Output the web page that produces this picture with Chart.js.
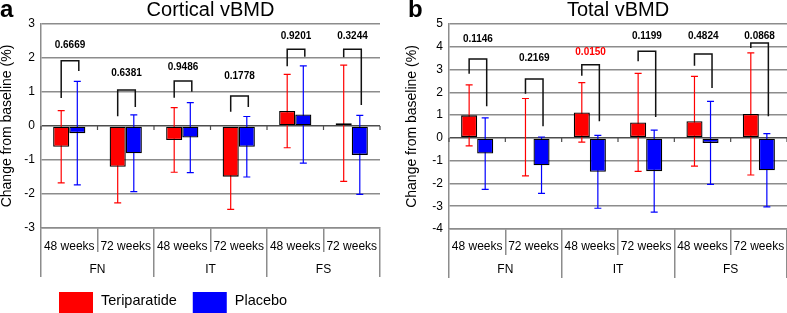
<!DOCTYPE html>
<html>
<head>
<meta charset="utf-8">
<script src="https://cdn.jsdelivr.net/npm/chart.js@4.4.1/dist/chart.umd.min.js"></script>
<style>
    body { margin: 0; background: #fff; }
    #wrap { position: relative; width: 787px; height: 313px; overflow: hidden; }
    canvas { position: absolute; top: 0; }
    #panelA { left: 0; }
    #panelB { left: 395px; }
</style>
</head>
<body>
<div id="wrap">
    <canvas id="panelA" width="395" height="313"></canvas>
    <canvas id="panelB" width="392" height="313"></canvas>
</div>
<script>
(function() {
    'use strict';

    // Axis categories
    const periods = ['48 weeks', '72 weeks', '48 weeks', '72 weeks', '48 weeks', '72 weeks'];
    const sites = ['FN', 'IT', 'FS'];
    const seriesNames = ['Teriparatide', 'Placebo'];

    // Panel a - Cortical vBMD (mean and SD, % change)
    const cortTeri = [-0.61, -1.20, -0.41, -1.49, 0.44, 0.08];
    const cortTeriSd = [1.06, 1.06, 0.95, 0.96, 1.08, 1.71];
    const cortPlac = [-0.21, -0.80, -0.34, -0.61, 0.34, -0.85];
    const cortPlacSd = [1.52, 1.13, 1.03, 0.89, 1.43, 1.16];
    const cortP = ['0.6669', '0.6381', '0.9486', '0.1778', '0.9201', '0.3244'];
    const cortPLabelY = [2.38, 1.56, 1.74, 1.45, 2.65, 2.65];
    const cortBracketTop = [1.92, 1.06, 1.32, 0.88, 2.26, 2.26];
    const cortBracketLeft = [0.82, 0.29, 0.83, 0.42, 1.76, 2.02];
    const cortBracketRight = [1.62, 0.56, 1.01, 0.56, 2.04, 0.62];
    const cortRange = [-3, 3];

    // Panel b - Total vBMD
    const totTeri = [0.99, 0.03, 1.12, 0.68, 0.73, 1.05];
    const totTeriSd = [1.34, 1.70, 1.31, 2.15, 1.97, 2.68];
    const totPlac = [-0.69, -1.20, -1.49, -1.46, -0.22, -1.42];
    const totPlacSd = [1.57, 1.24, 1.60, 1.80, 1.82, 1.61];
    const totP = ['0.1146', '0.2169', '0.0150', '0.1199', '0.4824', '0.0868'];
    const totPLabelY = [4.34, 3.51, 3.77, 4.46, 4.46, 4.46];
    const totBracketTop = [3.46, 2.59, 3.21, 3.80, 3.68, 4.17];
    const totBracketLeft = [2.82, 1.94, 2.73, 3.36, 3.17, 3.95];
    const totBracketRight = [1.39, 0.51, 0.73, 0.92, 2.19, 0.95];
    const totRange = [-4, 5];

    const FONT = "'Liberation Sans', Arial, sans-serif";
    const RED = '#ff0000';
    const BLUE = '#0000ff';
    const GRID = '#8c8c8c';

    Chart.defaults.font.family = FONT;
    Chart.defaults.color = '#000';

    // error bars go behind the bars
    const errorBars = {
        id: 'errorBars',
        beforeDatasetsDraw(chart) {
            const { ctx } = chart;
            const y = chart.scales.y;
            chart.data.datasets.forEach((ds, i) => {
                const meta = chart.getDatasetMeta(i);
                ctx.save();
                ctx.strokeStyle = ds.errColor;
                ctx.lineWidth = 1.2;
                meta.data.forEach((bar, j) => {
                    const top = y.getPixelForValue(ds.data[j] + ds.sd[j]);
                    const bot = y.getPixelForValue(ds.data[j] - ds.sd[j]);
                    ctx.beginPath();
                    ctx.moveTo(bar.x, top); ctx.lineTo(bar.x, bot);
                    ctx.moveTo(bar.x - 3.5, top); ctx.lineTo(bar.x + 3.5, top);
                    ctx.moveTo(bar.x - 3.5, bot); ctx.lineTo(bar.x + 3.5, bot);
                    ctx.stroke();
                });
                ctx.restore();
            });
        }
    };

    // p-value brackets and small ticks on the zero line
    const brackets = {
        id: 'brackets',
        afterDatasetsDraw(chart, args, opts) {
            const { ctx } = chart;
            const x = chart.scales.x;
            const y = chart.scales.y;
            const teri = chart.getDatasetMeta(0).data;
            const plac = chart.getDatasetMeta(1).data;
            const y0 = y.getPixelForValue(0);
            const slot = x.getPixelForValue(1) - x.getPixelForValue(0);

            ctx.save();
            ctx.strokeStyle = '#4d4d4d';
            ctx.lineWidth = 1.2;
            ctx.beginPath();
            for (let j = 0; j <= x.ticks.length; j++) {
                const px = x.getPixelForValue(0) - slot / 2 + j * slot;
                ctx.moveTo(px, y0); ctx.lineTo(px, y0 + 4);
            }
            ctx.stroke();

            ctx.strokeStyle = '#111';
            ctx.lineWidth = 1.5;
            ctx.font = 'bold 10px ' + FONT;
            ctx.textAlign = 'center';
            ctx.textBaseline = 'middle';
            teri.forEach((bar, j) => {
                const xl = bar.x;
                const xr = plac[j].x + 1.5;
                const yt = y.getPixelForValue(opts.top[j]);
                ctx.beginPath();
                ctx.moveTo(xl, y.getPixelForValue(opts.left[j]));
                ctx.lineTo(xl, yt);
                ctx.lineTo(xr, yt);
                ctx.lineTo(xr, y.getPixelForValue(opts.right[j]));
                ctx.stroke();
                ctx.fillStyle = parseFloat(opts.labels[j]) < 0.05 ? RED : '#000';
                ctx.fillText(opts.labels[j], (xl + xr) / 2, y.getPixelForValue(opts.labelY[j]));
            });
            ctx.restore();
        }
    };

    const panelTag = {
        id: 'panelTag',
        afterDraw(chart, args, opts) {
            const { ctx } = chart;
            ctx.save();
            ctx.font = 'bold 24px ' + FONT;
            ctx.fillStyle = '#000';
            ctx.textBaseline = 'alphabetic';
            ctx.fillText(opts.text, opts.x, opts.y);
            ctx.restore();
        }
    };

    const boxLegend = {
        id: 'boxLegend',
        afterDraw(chart, args, opts) {
            const { ctx } = chart;
            ctx.save();
            ctx.font = opts.fontSize + 'px ' + FONT;
            ctx.textBaseline = 'middle';
            let cx = opts.x;
            chart.data.datasets.forEach(ds => {
                ctx.fillStyle = ds.backgroundColor;
                ctx.fillRect(cx, opts.y, opts.boxW, opts.boxH);
                ctx.fillStyle = '#000';
                const tx = cx + opts.boxW + opts.gap;
                ctx.fillText(ds.label, tx, opts.y + 9);
                cx = tx + ctx.measureText(ds.label).width + opts.spacing;
            });
            ctx.restore();
        }
    };

    function makePanel(id, cfg) {
        return new Chart(document.getElementById(id), {
            type: 'bar',
            data: {
                labels: periods,
                datasets: [
                    { label: seriesNames[0], data: cfg.teri, sd: cfg.teriSd, backgroundColor: RED, errColor: RED },
                    { label: seriesNames[1], data: cfg.plac, sd: cfg.placSd, backgroundColor: BLUE, errColor: BLUE }
                ]
            },
            options: {
                responsive: false,
                animation: false,
                layout: { padding: cfg.padding },
                datasets: {
                    bar: {
                        categoryPercentage: 0.57,
                        barPercentage: 1,
                        borderColor: '#000',
                        borderWidth: 1.3,
                        borderSkipped: false
                    }
                },
                plugins: {
                    legend: { display: false },
                    tooltip: { enabled: false },
                    title: {
                        display: true,
                        fullSize: false,
                        text: cfg.title,
                        color: '#000',
                        font: { size: 20, weight: 'normal', lineHeight: 1 },
                        padding: { top: 0, bottom: 4 }
                    },
                    brackets: cfg.brackets,
                    panelTag: cfg.tag,
                    boxLegend: cfg.legend || false
                },
                scales: {
                    x: {
                        type: 'category',
                        offset: true,
                        weight: 0,
                        grid: { offset: true, drawOnChartArea: false, drawTicks: true, tickLength: cfg.rows[0], color: GRID, lineWidth: 1.5 },
                        border: { display: true, color: GRID, width: 1.5 },
                        ticks: { autoSkip: false, maxRotation: 0, padding: cfg.rowPad[0], font: { size: 12 }, color: '#000' },
                        afterFit: s => { s.height = cfg.rows[0]; }
                    },
                    x2: {
                        type: 'category',
                        position: 'bottom',
                        labels: sites,
                        offset: true,
                        weight: 1,
                        grid: { offset: true, drawOnChartArea: false, drawTicks: true, tickLength: cfg.rows[1], color: GRID, lineWidth: 1.5 },
                        border: { display: false },
                        ticks: { autoSkip: false, maxRotation: 0, padding: cfg.rowPad[1], font: { size: 12 }, color: '#000' },
                        afterFit: s => { s.height = cfg.rows[1]; }
                    },
                    y: {
                        min: cfg.range[0],
                        max: cfg.range[1],
                        ticks: { stepSize: 1, padding: 6, font: { size: 12 }, color: '#000' },
                        grid: {
                            drawTicks: false,
                            lineWidth: 1.5,
                            color: c => (c.tick && c.tick.value === 0) ? '#4d4d4d' : GRID
                        },
                        border: { color: GRID, width: 1.5 },
                        title: {
                            display: true,
                            text: 'Change from baseline (%)',
                            color: '#000',
                            font: { size: 14 },
                            padding: { top: -1, bottom: 0 }
                        },
                        afterFit: s => { s.width = cfg.yWidth; }
                    }
                }
            },
            plugins: [errorBars, brackets, panelTag, boxLegend]
        });
    }

    makePanel('panelA', {
        title: 'Cortical vBMD',
        teri: cortTeri, teriSd: cortTeriSd,
        plac: cortPlac, placSd: cortPlacSd,
        range: cortRange,
        padding: { left: 0, right: 15, top: 0, bottom: 36 },
        yWidth: 41,
        rows: [24, 25],
        rowPad: [-12.5, -14.2],
        brackets: { top: cortBracketTop, left: cortBracketLeft, right: cortBracketRight, labelY: cortPLabelY, labels: cortP },
        tag: { text: 'a', x: 0, y: 17 },
        legend: { x: 59, y: 292, boxW: 34, boxH: 22, gap: 8, spacing: 16, fontSize: 14.5 }
    });

    makePanel('panelB', {
        title: 'Total vBMD',
        teri: totTeri, teriSd: totTeriSd,
        plac: totPlac, placSd: totPlacSd,
        range: totRange,
        padding: { left: 10, right: 0, top: 0, bottom: 35 },
        yWidth: 44,
        rows: [26, 23],
        rowPad: [-15.5, -15.2],
        brackets: { top: totBracketTop, left: totBracketLeft, right: totBracketRight, labelY: totPLabelY, labels: totP },
        tag: { text: 'b', x: 13, y: 17 }
    });
})();
</script>
</body>
</html>
